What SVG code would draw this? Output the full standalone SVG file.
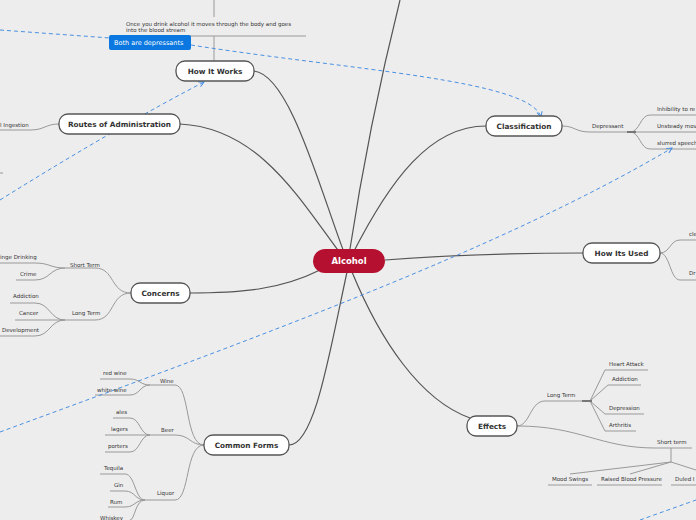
<svg xmlns="http://www.w3.org/2000/svg" width="696" height="520" viewBox="0 0 696 520">
<defs>
<style>
.n rect{fill:#fff;stroke:#555;stroke-width:1.3}
.n text{font-family:"DejaVu Sans",sans-serif;font-size:7.3px;font-weight:bold;fill:#333;text-anchor:middle}
.t{font-family:"DejaVu Sans",sans-serif;font-size:5.5px;fill:#333}
.m{fill:none;stroke:#555;stroke-width:1.2}
.s{fill:none;stroke:#999;stroke-width:1}
.d{fill:none;stroke:#4a90e2;stroke-width:1;stroke-dasharray:4,3}
</style>
<marker id="a" viewBox="0 0 8 8" refX="7" refY="4" markerWidth="7" markerHeight="7" orient="auto"><path d="M1,1 L7,4 L1,7" fill="none" stroke="#4a90e2" stroke-width="1.2"/></marker>
</defs>
<rect width="696" height="520" fill="#ededed"/>
<g id="connectors">
<path class="m" d="M349,255 C365,150 385,60 400,0"/>
<path class="m" d="M345,255 C320,190 290,75 254,71"/>
<path class="m" d="M343,257 C300,200 260,128 180,124"/>
<path class="m" d="M352,255 C390,180 430,126 486,126"/>
<path class="m" d="M385,260 C450,255 520,253 583,253"/>
<path class="m" d="M320,270 C280,290 240,293 190,293"/>
<path class="m" d="M347,272 C330,350 315,445 289,445"/>
<path class="m" d="M352,272 C380,340 420,400 470,418"/>
<path class="s" d="M214,0 V17 M214,36 V61 M110,36 H306"/>
<path class="s" d="M59,124 C45,124 45,130 30,130 H0 M0,173 H3"/>
<path class="s" d="M131,293 C110,293 115,268 95,268 H65 M131,293 C110,293 115,320 95,320 H65 M65,268 C50,268 50,263 35,263 H0 M65,268 C50,268 50,280 35,280 H16 M65,320 C50,320 50,303 35,303 H10 M65,320 H15 M65,320 C50,320 50,336 35,336 H0"/>
<path class="s" d="M204,445 C185,445 190,385 175,385 H150 M204,445 C190,445 190,435 175,435 H150 M204,445 C185,445 190,500 175,500 H145 M150,385 C140,385 140,379 130,379 H100 M150,385 C140,385 140,395 130,395 H95 M150,435 C140,435 140,418 130,418 H113 M150,435 H105 M150,435 C140,435 140,452 130,452 H105 M145,500 C135,500 135,474 125,474 H100 M145,500 C135,500 135,491 125,491 H110 M145,500 C135,500 135,507 125,507 H108 M145,500 C135,500 135,520 130,520"/>
<path class="s" d="M562,126 C575,126 575,132 590,132 H630 M630,132 C640,132 640,115 650,115 H696 M630,132 H696 M630,132 C640,132 640,149 650,149 H696"/>
<path class="s" d="M660,253 C670,253 670,240 680,240 H696 M660,253 C670,253 670,280 680,280 H696"/>
<path class="s" d="M517,426 C530,426 530,401 545,401 H590 M590,401 L605,370 H648 M590,401 L608,385 H641 M590,401 L605,414 H644 M590,401 L605,431 H636 M517,426 C580,426 600,448 655,448 H692 M671,448 V462 M671,462 L570,474 M671,462 L630,474 M671,462 L696,470 M548,485 H592 M597,485 H662 M671,485 H696"/>
<path d="M582,401 H592 M627,132 H636" stroke="#777" stroke-width="2"/>
<path class="d" d="M0,30 L110,38 M191,45 C350,70 530,80 541,117" marker-end="url(#a)"/>
<path class="d" d="M0,200 C80,150 150,110 204,82" marker-end="url(#a)"/>
<path class="d" d="M0,432 C250,340 500,250 672,148" marker-end="url(#a)"/>
<path class="d" d="M640,520 L696,500"/>
</g>
<g id="n-alcohol"><rect x="313" y="249" width="72" height="24" rx="12" fill="#b5102f"/><text x="349" y="264" font-family="DejaVu Sans,sans-serif" font-size="8.5" font-weight="bold" fill="#fff" text-anchor="middle">Alcohol</text></g>
<g id="n-howitworks" class="n"><rect x="176" y="61" width="78" height="20" rx="9"/><text x="215" y="74">How It Works</text></g>
<g id="n-routes" class="n"><rect x="59" y="114" width="121" height="20" rx="9"/><text x="119.5" y="127">Routes of Administration</text></g>
<g id="n-class" class="n"><rect x="486" y="116" width="76" height="20" rx="9"/><text x="524" y="129">Classification</text></g>
<g id="n-used" class="n"><rect x="583" y="243" width="77" height="20" rx="9"/><text x="621.5" y="256">How Its Used</text></g>
<g id="n-concerns" class="n"><rect x="131" y="283" width="59" height="20" rx="9"/><text x="160.5" y="296">Concerns</text></g>
<g id="n-forms" class="n"><rect x="204" y="435" width="85" height="20" rx="9"/><text x="246.5" y="448">Common Forms</text></g>
<g id="n-effects" class="n"><rect x="467" y="416" width="50" height="20" rx="9"/><text x="492" y="429">Effects</text></g>
<g id="n-dep"><rect x="109" y="35" width="82" height="15" rx="2" fill="#0a78e0"/><text x="114" y="45" font-family="DejaVu Sans,sans-serif" font-size="6.5" fill="#fff">Both are depressants</text></g>
<g id="labels" class="t">
<text x="126" y="26">Once you drink alcohol it moves through the body and goes</text>
<text x="126" y="32">into the blood stream</text>
<text x="0" y="127">l Ingestion</text>
<text x="70" y="267">Short Term</text>
<text x="0" y="259">inge Drinking</text>
<text x="20" y="276">Crime</text>
<text x="72" y="315">Long Term</text>
<text x="13" y="298">Addiction</text>
<text x="19" y="315">Cancer</text>
<text x="2" y="332">Development</text>
<text x="160" y="383">Wine</text>
<text x="103" y="375">red wine</text>
<text x="97" y="392">white wine</text>
<text x="161" y="432">Beer</text>
<text x="116" y="414">ales</text>
<text x="111" y="431">lagers</text>
<text x="108" y="448">porters</text>
<text x="157" y="495">Liquor</text>
<text x="104" y="470">Tequila</text>
<text x="114" y="487">Gin</text>
<text x="110" y="504">Rum</text>
<text x="100" y="520">Whiskey</text>
<text x="592" y="128">Depressant</text>
<text x="657" y="111">Inhibility to re</text>
<text x="657" y="128">Unsteady mov</text>
<text x="657" y="145">slurred speech</text>
<text x="689" y="236">cle</text>
<text x="689" y="275">Dr</text>
<text x="547" y="397">Long Term</text>
<text x="609" y="366">Heart Attack</text>
<text x="612" y="381">Addiction</text>
<text x="609" y="410">Depression</text>
<text x="609" y="427">Arthritis</text>
<text x="657" y="444">Short term</text>
<text x="552" y="481">Mood Swings</text>
<text x="601" y="481">Raised Blood Pressure</text>
<text x="675" y="481">Duled I</text>
</g>
</svg>
